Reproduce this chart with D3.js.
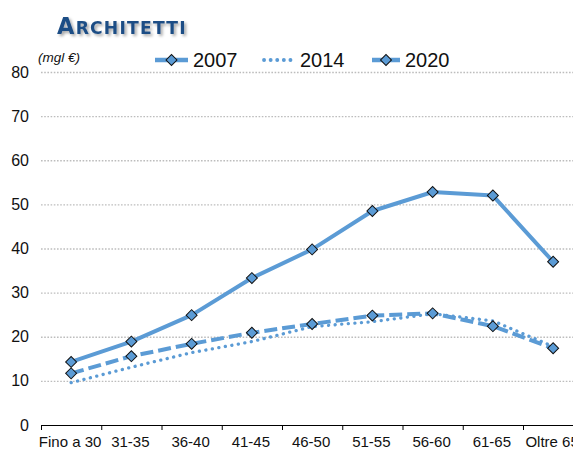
<!DOCTYPE html>
<html>
<head>
<meta charset="utf-8">
<script src="https://cdn.jsdelivr.net/npm/d3@7"></script>
<style>
  body { margin: 0; background: #fff; }
  svg { display: block; }
</style>
</head>
<body>
<svg id="chart"></svg>
<script>
const SIZE = { width: 573, height: 450 }
const MARGIN = { left: 41, top: 72, bottom: 25 }
const BLUE = '#5b9bd5'

const categories = ["Fino a 30", "31-35", "36-40", "41-45", "46-50", "51-55", "56-60", "61-65", "Oltre 65"]
const yTicks = [0, 10, 20, 30, 40, 50, 60, 70, 80]
const values2007 = [14.3, 18.9, 24.9, 33.3, 39.8, 48.5, 52.8, 52.0, 37.0]
const values2014 = [9.6, 13.1, 16.4, 18.9, 22.3, 23.4, 25.2, 23.6, 17.8]
const values2020 = [11.7, 15.6, 18.4, 20.9, 22.9, 24.8, 25.3, 22.4, 17.4]

const series = [
  { name: "2007", values: values2007, dash: null, width: 4, cap: 'butt', marker: true, lx: 155, lw: 33 },
  { name: "2014", values: values2014, dash: "0.1,6.5", width: 3.3, cap: 'round', marker: false, lx: 264, lw: 31 },
  { name: "2020", values: values2020, dash: "13,5", width: 4, cap: 'butt', marker: true, lx: 372, lw: 28 },
]

const svg = d3.select("svg#chart")
  .attr("width", SIZE.width)
  .attr("height", SIZE.height)

const defs = svg.append("defs")
const shadow = defs.append("filter").attr("id", "shadow")
  .attr("x", "-10%").attr("y", "-30%").attr("width", "130%").attr("height", "170%")
shadow.append("feDropShadow").attr("dx", 2).attr("dy", 2).attr("stdDeviation", 1.5)
  .attr("flood-color", "#000").attr("flood-opacity", 0.35)

// x runs past the right edge, as in the original picture
const x = d3.scaleBand().domain(categories).range([MARGIN.left, MARGIN.left + 9 * 60.25])
const y = d3.scaleLinear().domain([0, 80]).range([SIZE.height - MARGIN.bottom, MARGIN.top])
const cx = d => x(d) + x.bandwidth() / 2

// grid
svg.append("g").selectAll("line").data(yTicks.filter(t => t > 0)).enter()
  .append("line")
  .attr("x1", MARGIN.left).attr("x2", SIZE.width)
  .attr("y1", d => y(d) + 0.5).attr("y2", d => y(d) + 0.5)
  .attr("stroke", "#bdbdbd").attr("stroke-width", 1.3).attr("stroke-dasharray", "1.6,1.6")

// y labels
svg.append("g").selectAll("text").data(yTicks).enter()
  .append("text")
  .attr("x", 29).attr("y", d => y(d) + 5.5)
  .attr("text-anchor", "end")
  .attr("font-family", "Liberation Sans, Arial, sans-serif").attr("font-size", 16)
  .attr("fill", "#111")
  .text(d => d)

// x axis
const xAxis = d3.axisBottom(x).tickSize(5).tickSizeOuter(0).tickFormat("")
const xG = svg.append("g").attr("transform", `translate(0, ${y(0)})`).call(xAxis)
xG.select(".domain").attr("stroke", "#000").attr("stroke-width", 1.2)
xG.selectAll(".tick").attr("transform", d => `translate(${x(d) + 0.5}, 0)`)
xG.selectAll(".tick line").attr("stroke", "#000").attr("stroke-width", 1)
svg.append("g").selectAll("text").data(categories).enter()
  .append("text")
  .attr("x", d => cx(d) - 1).attr("y", 447)
  .attr("text-anchor", "middle")
  .attr("font-family", "Liberation Sans, Arial, sans-serif").attr("font-size", 15)
  .attr("fill", "#111")
  .text(d => d)

// lines
const line = d3.line().x((d, i) => cx(categories[i])).y(d => y(d))
const diamond = d3.symbol(d3.symbolSquare, 60)
series.forEach(s => {
  svg.append("path")
    .attr("d", line(s.values))
    .attr("fill", "none")
    .attr("stroke", BLUE)
    .attr("stroke-width", s.width)
    .attr("stroke-linecap", s.cap)
    .attr("stroke-linejoin", "round")
    .attr("stroke-dasharray", s.dash)
})
series.filter(s => s.marker).forEach(s => {
  svg.append("g").selectAll("path").data(s.values).enter()
    .append("path")
    .attr("d", diamond)
    .attr("transform", (d, i) => `translate(${cx(categories[i])}, ${y(d)}) rotate(45)`)
    .attr("fill", BLUE).attr("stroke", "#111").attr("stroke-width", 1)
})

// legend
const LEG_Y = 60
const legend = svg.append("g")
series.forEach(s => {
  legend.append("line")
    .attr("x1", s.lx).attr("x2", s.lx + s.lw)
    .attr("y1", LEG_Y).attr("y2", LEG_Y)
    .attr("stroke", BLUE).attr("stroke-width", s.width + 0.5)
    .attr("stroke-linecap", s.cap)
    .attr("stroke-dasharray", s.dash)
  if (s.marker) {
    legend.append("path").attr("d", diamond)
      .attr("transform", `translate(${s.lx + s.lw / 2}, ${LEG_Y}) rotate(45)`)
      .attr("fill", BLUE).attr("stroke", "#111").attr("stroke-width", 1)
  }
  legend.append("text")
    .attr("x", s.lx + s.lw + 5).attr("y", LEG_Y + 7)
    .attr("font-family", "Liberation Sans, Arial, sans-serif").attr("font-size", 20)
    .attr("fill", "#111")
    .text(s.name)
})

// unit
svg.append("text")
  .attr("x", 38).attr("y", 62)
  .attr("font-family", "Liberation Sans, Arial, sans-serif").attr("font-size", 13.5)
  .attr("font-style", "italic").attr("fill", "#111")
  .text("(mgl €)")

// title, small caps
const title = svg.append("text")
  .attr("x", 57).attr("y", 34)
  .attr("font-family", "DejaVu Sans, Verdana, sans-serif").attr("font-weight", "bold")
  .attr("fill", "#1f4e85").attr("filter", "url(#shadow)")
  .attr("letter-spacing", 1.2)
title.append("tspan").attr("font-size", 22.5).text("A")
title.append("tspan").attr("font-size", 17.2).text("RCHITETTI")
</script>
</body>
</html>
